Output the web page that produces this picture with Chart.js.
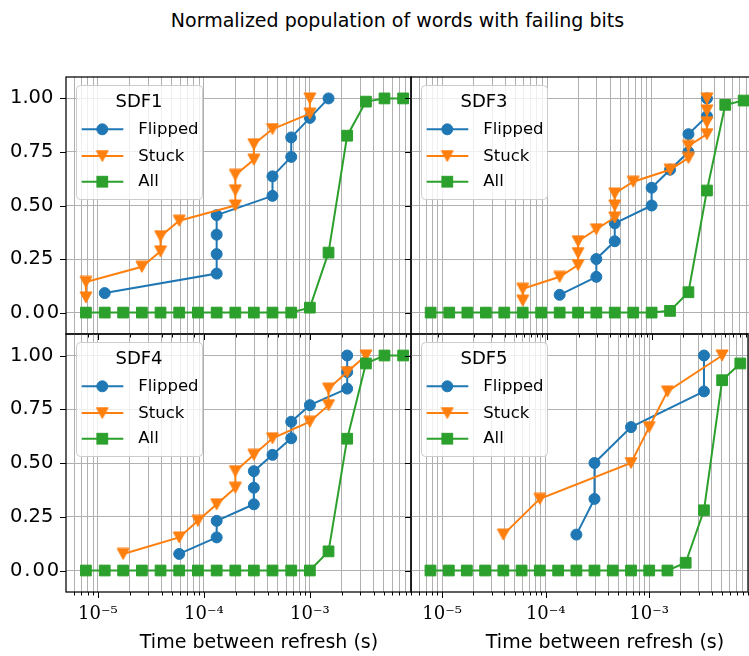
<!DOCTYPE html>
<html>
<head>
<meta charset="utf-8">
<script src="https://cdn.jsdelivr.net/npm/chart.js@4.4.1/dist/chart.umd.min.js"></script>
<style>
  html, body { margin: 0; padding: 0; background: #fff; }
  #wrap { position: relative; width: 749px; height: 656px; overflow: hidden; background: #fff; }
  canvas { position: absolute; left: 0; top: 0; }
  .txt { position: absolute; font-family: "DejaVu Sans"; font-size: 19px; line-height: 19px;
         color: #000; white-space: nowrap; text-align: center; }
</style>
</head>
<body>
<div id="wrap">
  <div class="txt" style="left:0; width:795px; top:11px;">Normalized population of words with failing bits</div>
  <canvas id="sdf1" width="760" height="656"></canvas>
  <canvas id="sdf3" width="760" height="656"></canvas>
  <canvas id="sdf4" width="760" height="656"></canvas>
  <canvas id="sdf5" width="760" height="656"></canvas>
  <div class="txt" style="left:59px; width:400px; top:632px;">Time between refresh (s)</div>
  <div class="txt" style="left:405px; width:400px; top:632px;">Time between refresh (s)</div>
</div>
<script>
// x values of the "All" series (same sweep on every panel)
const refreshTimes = [7.71e-6, 1.16e-5, 1.73e-5, 2.60e-5, 3.90e-5, 5.85e-5, 8.78e-5, 1.32e-4, 1.98e-4,
                      2.96e-4, 4.44e-4, 6.67e-4, 1.0e-3, 1.5e-3, 2.25e-3, 3.38e-3, 5.06e-3, 7.59e-3];

// SDF1
const sdf1AllY = [0, 0, 0, 0, 0, 0, 0, 0, 0, 0, 0, 0, 0.023, 0.28, 0.826, 0.985, 1, 1];
const sdf1FlippedX = [1.16e-5, 1.32e-4, 1.32e-4, 1.32e-4, 1.32e-4, 4.44e-4, 4.44e-4, 6.67e-4, 6.67e-4, 1.0e-3, 1.5e-3];
const sdf1FlippedY = [0.091, 0.182, 0.273, 0.364, 0.455, 0.545, 0.636, 0.727, 0.818, 0.909, 1.0];
const sdf1StuckX = [7.71e-6, 7.71e-6, 2.60e-5, 3.90e-5, 3.90e-5, 5.85e-5, 1.98e-4, 1.98e-4, 1.98e-4,
                    2.96e-4, 2.96e-4, 4.44e-4, 1.0e-3, 1.0e-3];
const sdf1StuckY = [0.071, 0.143, 0.214, 0.286, 0.357, 0.429, 0.5, 0.571, 0.643, 0.714, 0.786, 0.857, 0.929, 1.0];

// SDF3
const sdf3AllY = [0, 0, 0, 0, 0, 0, 0, 0, 0, 0, 0, 0, 0, 0.008, 0.095, 0.57, 0.97, 0.99];
const sdf3FlippedX = [1.32e-4, 2.96e-4, 2.96e-4, 4.44e-4, 4.44e-4, 1.0e-3, 1.0e-3, 1.5e-3, 2.25e-3, 2.25e-3, 3.38e-3, 3.38e-3];
const sdf3FlippedY = [0.083, 0.167, 0.25, 0.333, 0.417, 0.5, 0.583, 0.667, 0.75, 0.833, 0.917, 1.0];
const sdf3StuckX = [5.85e-5, 5.85e-5, 1.32e-4, 1.98e-4, 1.98e-4, 1.98e-4, 2.96e-4, 4.44e-4, 4.44e-4,
                    4.44e-4, 6.67e-4, 1.5e-3, 2.25e-3, 2.25e-3, 3.38e-3, 3.38e-3, 3.38e-3, 3.38e-3];
const sdf3StuckY = [0.056, 0.111, 0.167, 0.222, 0.278, 0.333, 0.389, 0.444, 0.5,
                    0.556, 0.611, 0.667, 0.722, 0.778, 0.833, 0.889, 0.944, 1.0];

// SDF4
const sdf4AllY = [0, 0, 0, 0, 0, 0, 0, 0, 0, 0, 0, 0, 0, 0.089, 0.613, 0.963, 1, 1];
const sdf4FlippedX = [5.85e-5, 1.32e-4, 1.32e-4, 2.96e-4, 2.96e-4, 2.96e-4, 4.44e-4, 6.67e-4, 6.67e-4,
                      1.0e-3, 2.25e-3, 2.25e-3, 2.25e-3];
const sdf4FlippedY = [0.077, 0.154, 0.231, 0.308, 0.385, 0.462, 0.538, 0.615, 0.692, 0.769, 0.846, 0.923, 1.0];
const sdf4StuckX = [1.73e-5, 5.85e-5, 8.78e-5, 1.32e-4, 1.98e-4, 1.98e-4, 2.96e-4, 4.44e-4, 1.0e-3,
                    1.5e-3, 1.5e-3, 2.25e-3, 3.38e-3];
const sdf4StuckY = [0.077, 0.154, 0.231, 0.308, 0.385, 0.462, 0.538, 0.615, 0.692, 0.769, 0.846, 0.923, 1.0];

// SDF5
const sdf5AllY = [0, 0, 0, 0, 0, 0, 0, 0, 0, 0, 0, 0, 0, 0, 0.036, 0.28, 0.885, 0.963];
const sdf5FlippedX = [1.98e-4, 2.96e-4, 2.96e-4, 6.67e-4, 3.38e-3, 3.38e-3];
const sdf5FlippedY = [0.167, 0.333, 0.5, 0.667, 0.833, 1.0];
const sdf5StuckX = [3.90e-5, 8.78e-5, 6.67e-4, 1.0e-3, 1.5e-3, 5.06e-3];
const sdf5StuckY = [0.167, 0.333, 0.5, 0.667, 0.833, 1.0];

// ticks
const yTickValues = [0, 0.25, 0.5, 0.75, 1];
const yTickLabels = ['0\u200A.\u200A0\u200A0', '0.25', '0.50', '0.75', '1.00'];
const xMajorTicks = [1e-5, 1e-4, 1e-3];
const xMajorLabels = ['10\u207B\u2075', '10\u207B\u2074', '10\u207B\u00B3'];
const xMin = 5e-6, xMax = 9e-3;

const xGridTicks = [];
[1e-6, 1e-5, 1e-4, 1e-3].forEach(d => {
  for (let m = 1; m <= 9; m++) {
    const v = +(m * d).toPrecision(3);
    if (v > xMin && v <= xMax) xGridTicks.push(v);
  }
});

const BLUE = '#1f77b4', ORANGE = '#ff7f0e', GREEN = '#2ca02c';
const GRID = '#b0b0b0';
const SANS = '"DejaVu Sans"';

Chart.defaults.font.family = SANS;
Chart.defaults.color = '#000';

// triangle-down marker centred on its bounding box, like matplotlib's 'v'
function makeTriangle(color) {
  const c = document.createElement('canvas');
  c.width = 14; c.height = 13;
  const g = c.getContext('2d');
  g.beginPath();
  g.moveTo(1, 1); g.lineTo(13, 1); g.lineTo(7, 12); g.closePath();
  g.fillStyle = color; g.fill();
  g.strokeStyle = color; g.lineWidth = 1; g.stroke();
  return c;
}
const triDown = makeTriangle(ORANGE);

// spines + tick marks
const frame = {
  id: 'frame',
  afterDatasetsDraw(chart) {
    const { ctx, chartArea: a, scales } = chart;
    ctx.save();
    ctx.strokeStyle = '#000';
    ctx.lineWidth = 1;
    ctx.beginPath();
    yTickValues.forEach(v => {
      const y = Math.round(scales.y.getPixelForValue(v)) + 0.5;
      ctx.moveTo(a.left - 6, y); ctx.lineTo(a.left, y);
    });
    xGridTicks.forEach(v => {
      const x = Math.round(scales.x.getPixelForValue(v)) + 0.5;
      const len = xMajorTicks.includes(v) ? 6 : 3.5;
      ctx.moveTo(x, a.bottom); ctx.lineTo(x, a.bottom + len);
    });
    ctx.stroke();
    ctx.lineWidth = 1.25;
    ctx.strokeRect(a.left, a.top, a.width, a.height);
    ctx.restore();
  }
};

// matplotlib style legend box in the upper left corner
const boxLegend = {
  id: 'boxLegend',
  afterDraw(chart, args, opts) {
    const { ctx, chartArea: a } = chart;
    const x0 = a.left + 10.5, y0 = a.top + 8.5, w = 126, h = 114, r = 4;
    ctx.save();
    ctx.beginPath();
    ctx.roundRect(x0, y0, w, h, r);
    ctx.fillStyle = 'rgba(255,255,255,0.8)';
    ctx.fill();
    ctx.strokeStyle = '#cccccc';
    ctx.lineWidth = 1;
    ctx.stroke();

    ctx.fillStyle = '#000';
    ctx.textBaseline = 'middle';
    ctx.textAlign = 'center';
    ctx.font = '18px ' + SANS;
    ctx.fillText(opts.title, a.left + 73, a.top + 25);

    const rows = [52.3, 79, 104.7];
    ctx.textAlign = 'left';
    ctx.font = '16.5px ' + SANS;
    chart.data.datasets.forEach((ds, i) => {
      const y = a.top + rows[i];
      const mx = a.left + 36.3;
      ctx.strokeStyle = ds.borderColor;
      ctx.lineWidth = 2;
      ctx.beginPath();
      ctx.moveTo(a.left + 15.7, y); ctx.lineTo(a.left + 57.3, y);
      ctx.stroke();
      ctx.fillStyle = ds.borderColor;
      ctx.lineWidth = 1;
      if (ds.pointStyle === 'circle') {
        ctx.beginPath(); ctx.arc(mx, y, ds.pointRadius, 0, Math.PI * 2); ctx.fill(); ctx.stroke();
      } else if (ds.pointStyle === 'rect') {
        const s = ds.pointRadius * Math.SQRT1_2;
        ctx.fillRect(mx - s, y - s, 2 * s, 2 * s); ctx.strokeRect(mx - s, y - s, 2 * s, 2 * s);
      } else {
        ctx.drawImage(ds.pointStyle, mx - ds.pointStyle.width / 2, y - ds.pointStyle.height / 2);
      }
      ctx.fillStyle = '#000';
      ctx.fillText(ds.label, a.left + 72.3, y + 0.5);
    });
    ctx.restore();
  }
};

function pts(xs, ys) {
  return xs.map((x, i) => ({ x: x, y: ys[i] }));
}

function makePanel(id, title, col, row, flippedX, flippedY, stuckX, stuckY, allY) {
  const left = col === 0 ? 66 : 411;
  const right = col === 0 ? 411 : 756;
  const top = row === 0 ? 77 : 334;
  const bottom = row === 0 ? 334 : 592;
  const yAxisW = col === 0 ? 56 : 0;   // labels start at the axis box's left edge
  const xAxisH = row === 1 ? 656 - bottom : 0;

  new Chart(document.getElementById(id), {
    type: 'line',
    data: {
      datasets: [
        { label: 'Flipped', data: pts(flippedX, flippedY), borderColor: BLUE, backgroundColor: BLUE,
          borderWidth: 2, pointStyle: 'circle', pointRadius: 5.5, pointBorderWidth: 1,
          pointBackgroundColor: BLUE, pointBorderColor: BLUE, order: 3 },
        { label: 'Stuck', data: pts(stuckX, stuckY), borderColor: ORANGE, backgroundColor: ORANGE,
          borderWidth: 2, pointStyle: triDown, pointRadius: 6, order: 2 },
        { label: 'All', data: pts(refreshTimes, allY), borderColor: GREEN, backgroundColor: GREEN,
          borderWidth: 2, pointStyle: 'rect', pointRadius: 7.6, pointBorderWidth: 1,
          pointBackgroundColor: GREEN, pointBorderColor: GREEN, order: 1 }
      ]
    },
    options: {
      responsive: false,
      animation: false,
      events: [],
      tension: 0,
      layout: { padding: { left: left - yAxisW, right: 760 - right, top: top, bottom: 656 - bottom - xAxisH } },
      plugins: {
        legend: { display: false },
        tooltip: { enabled: false },
        boxLegend: { title: title }
      },
      scales: {
        x: {
          type: 'logarithmic',
          min: xMin,
          max: xMax,
          afterBuildTicks: s => { s.ticks = xGridTicks.map(v => ({ value: v })); },
          afterFit: s => { s.height = xAxisH; },
          border: { display: false },
          grid: { color: GRID, lineWidth: 1, drawTicks: false },
          ticks: {
            display: row === 1,
            autoSkip: false,
            maxRotation: 0,
            padding: 12,
            color: '#000',
            font: { family: '"DejaVu Serif"', size: 18 },
            callback: v => {
              const i = xMajorTicks.indexOf(v);
              return i >= 0 ? xMajorLabels[i] : '';
            }
          }
        },
        y: {
          min: -0.1,
          max: 1.1,
          afterBuildTicks: s => { s.ticks = yTickValues.map(v => ({ value: v })); },
          afterFit: s => { s.width = yAxisW; },
          border: { display: false },
          grid: { color: GRID, lineWidth: 1, drawTicks: false },
          ticks: {
            display: col === 0,
            crossAlign: 'far',
            padding: 6,
            color: '#000',
            font: { size: 19.5 },
            callback: v => yTickLabels[yTickValues.indexOf(v)]
          }
        }
      }
    },
    plugins: [frame, boxLegend]
  });
}

makePanel('sdf1', 'SDF1', 0, 0, sdf1FlippedX, sdf1FlippedY, sdf1StuckX, sdf1StuckY, sdf1AllY);
makePanel('sdf3', 'SDF3', 1, 0, sdf3FlippedX, sdf3FlippedY, sdf3StuckX, sdf3StuckY, sdf3AllY);
makePanel('sdf4', 'SDF4', 0, 1, sdf4FlippedX, sdf4FlippedY, sdf4StuckX, sdf4StuckY, sdf4AllY);
makePanel('sdf5', 'SDF5', 1, 1, sdf5FlippedX, sdf5FlippedY, sdf5StuckX, sdf5StuckY, sdf5AllY);
</script>
</body>
</html>
